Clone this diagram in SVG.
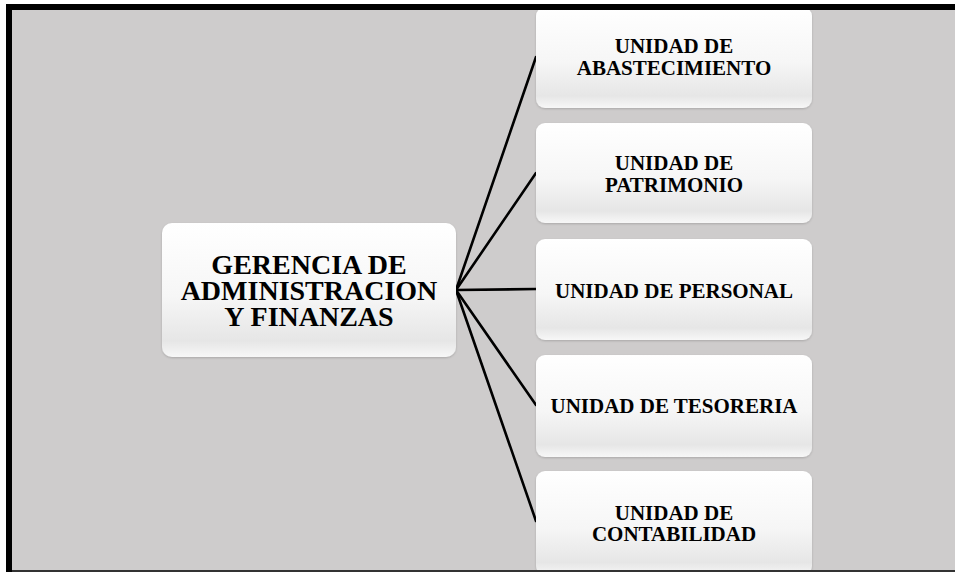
<svg xmlns="http://www.w3.org/2000/svg" width="955" height="572" viewBox="0 0 955 572">
<defs>
<linearGradient id="g" x1="0" y1="0" x2="0" y2="1">
<stop offset="0" stop-color="#ffffff"/>
<stop offset="0.55" stop-color="#f6f6f6"/>
<stop offset="0.88" stop-color="#e6e6e6"/>
<stop offset="1" stop-color="#f7f7f7"/>
</linearGradient>
<filter id="sh" x="-5%" y="-5%" width="110%" height="115%">
<feDropShadow dx="0" dy="1" stdDeviation="1.2" flood-color="#000" flood-opacity="0.18"/>
</filter>
</defs>
<style>
.box{fill:url(#g);filter:url(#sh);}
.t{font-family:"Liberation Serif","Times New Roman",serif;font-weight:bold;fill:#000;text-anchor:middle;}
.s{font-size:21px;}
.m{font-size:28px;}
.c{stroke:#000;stroke-width:2.6;fill:none;stroke-linecap:round;}
</style>
<rect x="0" y="0" width="955" height="572" fill="#ffffff"/>
<rect x="6" y="4" width="949" height="568" fill="#cecccc"/>
<g id="connectors">
<line class="c" x1="456" y1="290" x2="536" y2="57"/>
<line class="c" x1="456" y1="290" x2="536" y2="173"/>
<line class="c" x1="456" y1="290" x2="536" y2="289"/>
<line class="c" x1="456" y1="290" x2="536" y2="405"/>
<line class="c" x1="456" y1="290" x2="536" y2="521"/>
</g>
<g id="gerencia">
<rect class="box" x="162" y="223" width="294" height="134" rx="10"/>
<text class="t m" x="309" y="274">GERENCIA DE</text>
<text class="t m" x="309" y="300">ADMINISTRACION</text>
<text class="t m" x="309" y="326">Y FINANZAS</text>
</g>
<g id="abastecimiento">
<rect class="box" x="536" y="7" width="276" height="101" rx="9"/>
<text class="t s" x="674" y="53">UNIDAD DE</text>
<text class="t s" x="674" y="75">ABASTECIMIENTO</text>
</g>
<g id="patrimonio">
<rect class="box" x="536" y="123" width="276" height="100" rx="9"/>
<text class="t s" x="674" y="170">UNIDAD DE</text>
<text class="t s" x="674" y="192">PATRIMONIO</text>
</g>
<g id="personal">
<rect class="box" x="536" y="239" width="276" height="101" rx="9"/>
<text class="t s" x="674" y="298">UNIDAD DE PERSONAL</text>
</g>
<g id="tesoreria">
<rect class="box" x="536" y="355" width="276" height="102" rx="9"/>
<text class="t s" x="674" y="413">UNIDAD DE TESORERIA</text>
</g>
<g id="contabilidad">
<rect class="box" x="536" y="471" width="276" height="104" rx="9"/>
<text class="t s" x="674" y="520">UNIDAD DE</text>
<text class="t s" x="674" y="541">CONTABILIDAD</text>
</g>
<rect x="6" y="4" width="949" height="6" fill="#000"/>
<rect x="6" y="4" width="6" height="568" fill="#000"/>
<rect x="12" y="570" width="943" height="2" fill="#333"/>
</svg>
